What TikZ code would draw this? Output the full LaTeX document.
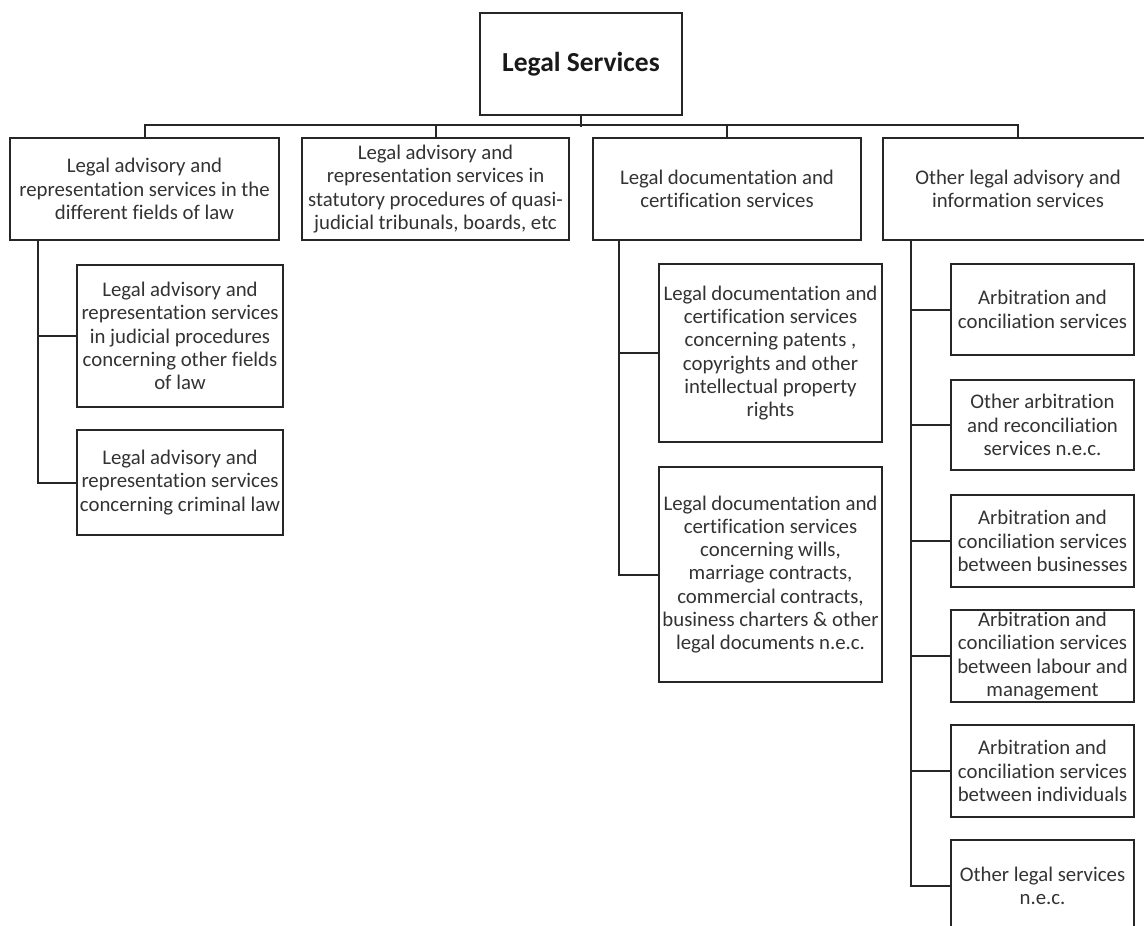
\documentclass[tikz,border=0pt]{standalone}
\usepackage{fontspec}
\setmainfont{Carlito}[Ligatures=NoCommon]
\begin{document}
\begin{tikzpicture}[x=1pt,y=-1pt,
  box/.style={draw=black!85, line width=2pt, fill=white, text=black!80, align=center,
    inner sep=0pt, font=\fontsize{20.8}{23.3}\selectfont},
  rootbox/.style={box, font=\fontsize{27.5}{30}\selectfont\bfseries, text=black!90},
  link/.style={draw=black!85, line width=2pt}]
\useasboundingbox (0,0) rectangle (1144,926);
\clip (0,0) rectangle (1144,926);
% root
\node[rootbox, minimum width=202pt, minimum height=102pt] (root) at (581,64) {Legal Services};
% level 1
\node[box, minimum width=269pt, minimum height=102pt] (b1) at (144.5,189)
  {Legal advisory and\\representation services in the\\different fields of law};
\node[box, minimum width=267pt, minimum height=102pt] (b2) at (435.5,189)
  {Legal advisory and\\representation services in\\statutory procedures of quasi-\\judicial tribunals, boards, etc};
\node[box, minimum width=268pt, minimum height=102pt] (b3) at (727,189)
  {Legal documentation and\\certification services};
\node[box, minimum width=270pt, minimum height=102pt] (b4) at (1018,189)
  {Other legal advisory and\\information services};
% level 2, left
\node[box, minimum width=206pt, minimum height=142pt] (l1) at (180,336)
  {Legal advisory and\\representation services\\in judicial procedures\\concerning other fields\\of law};
\node[box, minimum width=206pt, minimum height=105pt] (l2) at (180,482.5)
  {Legal advisory and\\representation services\\concerning criminal law};
% level 2, middle
\node[box, minimum width=223pt, minimum height=178pt] (m1) at (770.5,353)
  {Legal documentation and\\certification services\\concerning patents ,\\copyrights and other\\intellectual property\\rights};
\node[box, minimum width=223pt, minimum height=215pt] (m2) at (770.5,574.5)
  {Legal documentation and\\certification services\\concerning wills,\\marriage contracts,\\commercial contracts,\\business charters \& other\\legal documents n.e.c.};
% level 2, right
\node[box, minimum width=183pt, minimum height=91pt] (r1) at (1042.5,309.5)
  {Arbitration and\\conciliation services};
\node[box, minimum width=183pt, minimum height=90pt] (r2) at (1042.5,425)
  {Other arbitration\\and reconciliation\\services n.e.c.};
\node[box, minimum width=183pt, minimum height=92pt] (r3) at (1042.5,541)
  {Arbitration and\\conciliation services\\between businesses};
\node[box, minimum width=183pt, minimum height=92pt] (r4) at (1042.5,656)
  {Arbitration and\\conciliation services\\between labour and\\management};
\node[box, minimum width=183pt, minimum height=92pt] (r5) at (1042.5,771)
  {Arbitration and\\conciliation services\\between individuals};
\node[box, minimum width=183pt, minimum height=92pt] (r6) at (1042.5,886)
  {Other legal services\\n.e.c.};
% top connectors
\draw[link] (root.south) -- ++(0,11);
\draw[link] (b1.north) -- ++(0,-12) -| (b4.north);
\draw[link] (b2.north) -- ++(0,-12);
\draw[link] (b3.north) -- ++(0,-12);
% left children
\coordinate (t1) at (38,240);
\draw[link] (t1) |- (l1.west);
\draw[link] (t1) |- (l2.west);
% middle children
\coordinate (t3) at (619,240);
\draw[link] (t3) |- (m1.west);
\draw[link] (t3) |- (m2.west);
% right children
\coordinate (t4) at (911,240);
\foreach \n in {r1,r2,r3,r4,r5,r6} {\draw[link] (t4) |- (\n.west);}
\end{tikzpicture}
\end{document}
